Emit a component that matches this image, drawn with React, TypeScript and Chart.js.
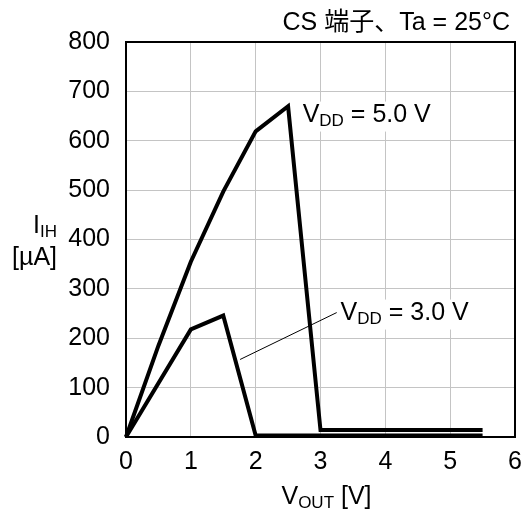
import React, { useEffect, useRef } from "react";
import { Chart, registerables } from "chart.js";

Chart.register(...registerables);

// ---- data ----
const vdd5X = [0, 0.5, 1, 1.5, 2, 2.5, 3, 5.5];
const vdd5Y = [0, 185, 355, 497, 619, 670, 14, 14];
const vdd3X = [0, 1, 1.5, 2, 5.5];
const vdd3Y = [0, 218, 246, 3, 3];
const xMin = 0;
const xMax = 6;
const yMin = 0;
const yMax = 800;
const xStep = 1;
const yStep = 100;
const titleText = "CS 端子、Ta = 25°C";
const vdd5Label = [{ t: "V" }, { t: "DD", sub: true }, { t: " = 5.0 V" }];
const vdd3Label = [{ t: "V" }, { t: "DD", sub: true }, { t: " = 3.0 V" }];
const yLabel1 = [{ t: "I" }, { t: "IH", sub: true }];
const yLabel2 = [{ t: "[µA]" }];
const xLabel = [{ t: "V" }, { t: "OUT", sub: true }, { t: " [V]" }];

const FAMILY = "'Liberation Sans', Arial, 'Noto Sans CJK JP', sans-serif";
const MAIN = 25;
const SUB = 17;

type Part = { t: string; sub?: boolean };

function partsWidth(ctx: CanvasRenderingContext2D, parts: Part[]) {
  let w = 0;
  for (const p of parts) {
    ctx.font = `${p.sub ? SUB : MAIN}px ${FAMILY}`;
    w += ctx.measureText(p.t).width;
  }
  return w;
}

function drawParts(
  ctx: CanvasRenderingContext2D,
  parts: Part[],
  x: number,
  yc: number,
  align: "left" | "right" | "center"
) {
  const w = partsWidth(ctx, parts);
  let sx = x;
  if (align === "right") sx = x - w;
  if (align === "center") sx = x - w / 2;
  ctx.fillStyle = "#000000";
  ctx.textBaseline = "middle";
  ctx.textAlign = "left";
  for (const p of parts) {
    ctx.font = `${p.sub ? SUB : MAIN}px ${FAMILY}`;
    ctx.fillText(p.t, sx, yc + (p.sub ? 6 : 0));
    sx += ctx.measureText(p.t).width;
  }
}

const annotPlugin = {
  id: "annot",
  beforeDatasetsDraw(chart: any) {
    const { ctx, scales } = chart;
    const xs = scales.x;
    const ys = scales.y;
    ctx.save();
    const w5 = partsWidth(ctx, vdd5Label);
    const w3 = partsWidth(ctx, vdd3Label);
    ctx.fillStyle = "#fff";
    ctx.fillRect(xs.getPixelForValue(2.725) - 3, ys.getPixelForValue(651) - 14, w5 + 6, 30);
    ctx.fillRect(xs.getPixelForValue(3.31) - 3, ys.getPixelForValue(250) - 14, w3 + 6, 30);
    ctx.restore();
  },
  afterDatasetsDraw(chart: any) {
    const { ctx, chartArea, scales } = chart;
    const xs = scales.x;
    const ys = scales.y;
    ctx.save();
    // frame
    ctx.strokeStyle = "#000";
    ctx.lineWidth = 2;
    ctx.strokeRect(chartArea.left, chartArea.top, chartArea.right - chartArea.left, chartArea.bottom - chartArea.top);
    // leader line
    ctx.lineWidth = 1;
    ctx.beginPath();
    ctx.moveTo(xs.getPixelForValue(1.76), ys.getPixelForValue(157));
    ctx.lineTo(xs.getPixelForValue(3.25), ys.getPixelForValue(252));
    ctx.stroke();
    // labels
    drawParts(ctx, vdd5Label, xs.getPixelForValue(2.725), ys.getPixelForValue(651), "left");
    drawParts(ctx, vdd3Label, xs.getPixelForValue(3.31), ys.getPixelForValue(250), "left");
    // title
    drawParts(ctx, [{ t: titleText }], chartArea.right - 5, 23, "right");
    // y label
    drawParts(ctx, yLabel1, 57, 226, "right");
    drawParts(ctx, yLabel2, 57, 258, "right");
    // x label
    drawParts(ctx, xLabel, (chartArea.left + chartArea.right) / 2 + 6, 497, "center");
    ctx.restore();
  },
};

export default function App() {
  const ref = useRef<HTMLCanvasElement | null>(null);
  useEffect(() => {
    if (!ref.current) return;
    const chart = new Chart(ref.current, {
      type: "line",
      data: {
        datasets: [
          {
            label: "VDD = 5.0 V",
            data: vdd5X.map((x, i) => ({ x, y: vdd5Y[i] })),
            borderColor: "#000",
            borderWidth: 4,
            pointRadius: 0,
            tension: 0,
            fill: false,
            clip: false as any,
          },
          {
            label: "VDD = 3.0 V",
            data: vdd3X.map((x, i) => ({ x, y: vdd3Y[i] })),
            borderColor: "#000",
            borderWidth: 4,
            pointRadius: 0,
            tension: 0,
            fill: false,
            clip: false as any,
          },
        ],
      },
      options: {
        responsive: false,
        animation: false,
        layout: { padding: { left: 0, top: 42, right: 11, bottom: 0 } },
        plugins: { legend: { display: false }, tooltip: { enabled: false } },
        scales: {
          x: {
            type: "linear",
            min: xMin,
            max: xMax,
            afterFit: (s: any) => {
              s.height = 74;
              s.paddingLeft = 0;
              s.paddingRight = 0;
            },
            ticks: {
              stepSize: xStep,
              color: "#000",
              padding: 10,
              font: { family: FAMILY, size: MAIN },
            },
            grid: { color: "#c4c4c4", lineWidth: 1, drawTicks: false },
            border: { color: "#000", width: 2 },
          },
          y: {
            type: "linear",
            min: yMin,
            max: yMax,
            afterFit: (s: any) => {
              s.width = 126;
              s.paddingTop = 0;
              s.paddingBottom = 0;
            },
            ticks: {
              stepSize: yStep,
              color: "#000",
              padding: 16,
              font: { family: FAMILY, size: MAIN },
            },
            grid: { color: "#c4c4c4", lineWidth: 1, drawTicks: false },
            border: { color: "#000", width: 2 },
          },
        },
      },
      plugins: [annotPlugin],
    });
    return () => chart.destroy();
  }, []);
  return (
    <div style={{ position: "fixed", left: 0, top: 0, width: 526, height: 511, background: "#fff" }}>
      <canvas ref={ref} width={526} height={511} style={{ width: 526, height: 511 }} />
    </div>
  );
}
